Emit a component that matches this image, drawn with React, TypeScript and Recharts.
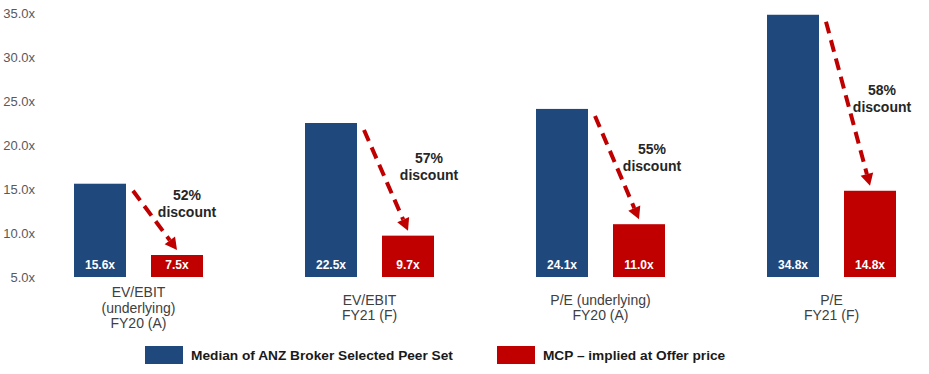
import React from 'react'
import { BarChart, Bar, XAxis, YAxis, Legend } from 'recharts'

const categories = ['EV/EBIT\n(underlying)\nFY20 (A)', 'EV/EBIT\nFY21 (F)', 'P/E (underlying)\nFY20 (A)', 'P/E\nFY21 (F)']
const peerMedian = [15.6, 22.5, 24.1, 34.8]
const mcpImplied = [7.5, 9.7, 11.0, 14.8]
const discounts = ['52%', '57%', '55%', '58%']
const yTicks = [5, 10, 15, 20, 25, 30, 35]
const seriesNames = ['Median of ANZ Broker Selected Peer Set', 'MCP \u2013 implied at Offer price']

// callout text placement: height in axis units, x offset from the red bar centre
const calloutPos = [
  { at: 14.3, dx: 10 },
  { at: 18.5, dx: 21 },
  { at: 19.5, dx: 13 },
  { at: 26.2, dx: 12 },
]

const BLUE = '#1F497D'
const RED = '#C00000'
const FONT = '"Liberation Sans", Arial, sans-serif'
const BAR_SIZE = 52
const BAR_GAP = 25
const AXIS_MIN = yTicks[0]

const data = categories.map((name, i) => ({ name, peer: peerMedian[i], mcp: mcpImplied[i] }))

const ValueText = ({ x, y, width, height, value }: any) => (
  <text
    x={x + width / 2}
    y={y + height - 8}
    textAnchor="middle"
    fontFamily={FONT}
    fontWeight="bold"
    fontSize={12}
    fill="#ffffff"
  >
    {`${Number(value).toFixed(1)}x`}
  </text>
)

const PeerBar = (props: any) => {
  const { x, y, width, height } = props
  return (
    <g>
      <rect x={x} y={y} width={width} height={height} fill={BLUE} />
      <ValueText x={x} y={y} width={width} height={height} value={props.peer} />
    </g>
  )
}

const McpBar = (props: any) => {
  const { x, y, width, height, index } = props
  const base = y + height
  const k = height / (mcpImplied[index] - AXIS_MIN)
  const blueTop = base - (peerMedian[index] - AXIS_MIN) * k
  const blueRight = x - BAR_GAP

  // dashed arrow from the peer bar down to the MCP bar
  const x1 = blueRight + 7
  const y1 = blueTop + 7
  const x2 = x + width / 2
  const y2 = y - 5
  const len = Math.hypot(x2 - x1, y2 - y1)
  const ux = (x2 - x1) / len
  const uy = (y2 - y1) / len
  const head = 12
  const hw = 6.5
  const bx = x2 - ux * head
  const by = y2 - uy * head
  const pts = `${x2},${y2} ${bx - uy * hw},${by + ux * hw} ${bx + uy * hw},${by - ux * hw}`

  const pos = calloutPos[index]
  const ty = base - (pos.at - AXIS_MIN) * k
  const tx = x + width / 2 + pos.dx

  return (
    <g>
      <rect x={x} y={y} width={width} height={height} fill={RED} />
      <ValueText x={x} y={y} width={width} height={height} value={props.mcp} />
      <line x1={x1} y1={y1} x2={bx} y2={by} stroke={RED} strokeWidth={4} strokeDasharray="12 7" />
      <polygon points={pts} fill={RED} />
      <text textAnchor="middle" fontFamily={FONT} fontWeight="bold" fontSize={14} fill="#262626">
        <tspan x={tx} y={ty + 5}>{discounts[index]}</tspan>
        <tspan x={tx} y={ty + 21.5}>discount</tspan>
      </text>
    </g>
  )
}

const CategoryTick = (props: any) => {
  const { x, y, payload } = props
  const lines = String(payload.value).split('\n')
  const lh = 15.5
  const first = 30.5 - ((lines.length - 1) * lh) / 2 + 5
  return (
    <text textAnchor="middle" fontFamily={FONT} fontSize={14} fill="#404040">
      {lines.map((l, i) => (
        <tspan key={i} x={x} y={y + first + i * lh}>
          {l}
        </tspan>
      ))}
    </text>
  )
}

const ValueTick = (props: any) => {
  const { y, payload } = props
  return (
    <text x={35} y={y + 4.5} textAnchor="end" fontFamily={FONT} fontSize={13} fill="#595959">
      {`${Number(payload.value).toFixed(1)}x`}
    </text>
  )
}

const LegendContent = () => (
  <div
    style={{
      display: 'flex',
      alignItems: 'center',
      height: 30,
      paddingLeft: 145,
      fontFamily: FONT,
      fontWeight: 'bold',
      fontSize: 13.7,
      color: '#1a1a1a',
      whiteSpace: 'nowrap',
    }}
  >
    {seriesNames.map((n, i) => (
      <div key={n} style={{ display: 'flex', alignItems: 'center', marginRight: 44 }}>
        <span style={{ display: 'inline-block', width: 38, height: 18, background: i === 0 ? BLUE : RED, marginRight: 8 }} />
        {n}
      </div>
    ))}
  </div>
)

export default function App() {
  return (
    <div style={{ position: 'absolute', left: 0, top: 0, width: 929, height: 374, overflow: 'hidden', background: '#fff' }}>
      <BarChart
        width={947}
        height={374}
        data={data}
        margin={{ top: 13, right: 0, left: 0, bottom: 4 }}
        barSize={BAR_SIZE}
        barGap={BAR_GAP}
      >
        <XAxis
          dataKey="name"
          axisLine={false}
          tickLine={false}
          tickSize={0}
          tickMargin={0}
          interval={0}
          height={63}
          tick={<CategoryTick />}
        />
        <YAxis
          type="number"
          domain={[AXIS_MIN, yTicks[yTicks.length - 1]]}
          ticks={yTicks}
          axisLine={false}
          tickLine={false}
          width={23}
          tick={<ValueTick />}
        />
        <Legend verticalAlign="bottom" content={<LegendContent />} wrapperStyle={{ left: 0, width: 929 }} />
        <Bar dataKey="peer" name={seriesNames[0]} fill={BLUE} shape={<PeerBar />} isAnimationActive={false} />
        <Bar dataKey="mcp" name={seriesNames[1]} fill={RED} shape={<McpBar />} isAnimationActive={false} />
      </BarChart>
    </div>
  )
}
